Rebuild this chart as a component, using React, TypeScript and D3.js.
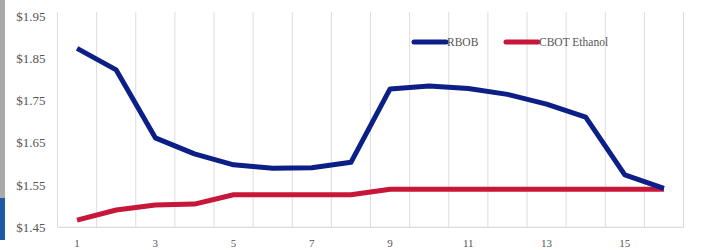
import React from "react";
import * as d3 from "d3";

const categories = [1, 2, 3, 4, 5, 6, 7, 8, 9, 10, 11, 12, 13, 14, 15, 16];
const rbob = [1.874, 1.823, 1.662, 1.624, 1.598, 1.59, 1.591, 1.604, 1.778, 1.785, 1.779, 1.765, 1.742, 1.711, 1.574, 1.542];
const ethanol = [1.467, 1.491, 1.503, 1.505, 1.527, 1.527, 1.527, 1.527, 1.54, 1.54, 1.54, 1.54, 1.54, 1.54, 1.54, 1.54];
const yTicks = [1.45, 1.55, 1.65, 1.75, 1.85, 1.95];
const xTickLabels = [1, 3, 5, 7, 9, 11, 13, 15];
const seriesNames = ["RBOB", "CBOT Ethanol"];
const colors = ["#0b1f86", "#c8163a"];

export default function App() {
  const W = 709, H = 250;
  const left = 57.5, right = 683.5, top = 16.3, bottom = 227.3;
  const x = d3.scaleBand<number>().domain(categories).range([left, right]);
  const y = d3.scaleLinear().domain([1.45, 1.95]).range([bottom, top]);
  const cx = (c: number) => (x(c) as number) + x.bandwidth() / 2;
  const line = d3.line<number>().x((_, i) => cx(categories[i])).y((d) => y(d));
  const boundaries = [...categories.map((c) => x(c) as number), right];
  const font = "'Liberation Serif', 'DejaVu Serif', serif";
  return (
    <svg width={W} height={H} style={{ position: "absolute", left: 0, top: 0 }}>
      <rect x={0} y={0} width={W} height={H} fill="#fff" />
      <rect x={0} y={0} width={5} height={198} fill="#a9a9ab" />
      <rect x={0} y={198} width={5} height={42} fill="#1f5aa6" />
      {boundaries.map((b, i) => (
        <line key={i} x1={b} x2={b} y1={top - 4} y2={bottom} stroke="#dcdcdc" strokeWidth={1} />
      ))}
      <line x1={left} x2={right} y1={bottom} y2={bottom} stroke="#d4d4d4" strokeWidth={1} />
      {yTicks.map((t) => (
        <text key={t} x={45.5} y={y(t)} dy="0.35em" textAnchor="end" fontFamily={font} fontSize={13} fill="#555">
          {"$" + t.toFixed(2)}
        </text>
      ))}
      {xTickLabels.map((t) => (
        <text key={t} x={cx(t)} y={243} dy="0.35em" textAnchor="middle" fontFamily={font} fontSize={11} fill="#555">
          {t}
        </text>
      ))}
      <path d={line(ethanol) || ""} fill="none" stroke={colors[1]} strokeWidth={5} strokeLinejoin="round" />
      <path d={line(rbob) || ""} fill="none" stroke={colors[0]} strokeWidth={5} strokeLinejoin="round" />
      {seriesNames.map((n, i) => {
        const lx = i === 0 ? 414 : 506;
        return (
          <g key={n}>
            <line x1={lx} x2={lx + 32} y1={42} y2={42} stroke={colors[i]} strokeWidth={5} strokeLinecap="round" />
            <text x={lx + 33} y={42} dy="0.35em" fontFamily={font} fontSize={11.5} fill="#555">
              {n}
            </text>
          </g>
        );
      })}
    </svg>
  );
}
